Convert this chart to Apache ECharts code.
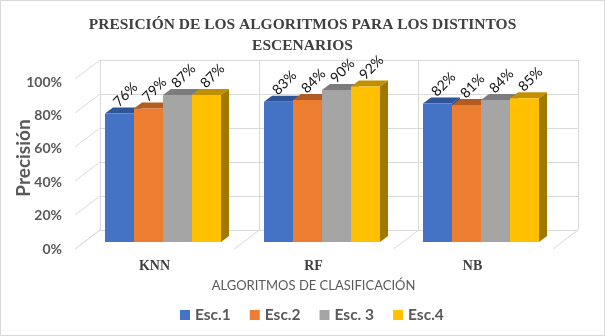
<!DOCTYPE html>
<html>
<head>
<meta charset="utf-8">
<script src="https://cdn.jsdelivr.net/npm/echarts@6/dist/echarts.min.js"></script>
<style>html,body{margin:0;padding:0;background:#fff}#c{width:605px;height:336px}</style>
</head>
<body>
<div id="c"></div>
<script>
// ---- data ----
const categories = ['KNN', 'RF', 'NB'];
const seriesNames = ['Esc.1', 'Esc.2', 'Esc. 3', 'Esc.4'];
const esc1 = [0.76, 0.83, 0.82];
const esc2 = [0.79, 0.84, 0.81];
const esc3 = [0.87, 0.90, 0.84];
const esc4 = [0.87, 0.92, 0.85];
const yTicks = [0, 0.2, 0.4, 0.6, 0.8, 1.0];
const yTickLabels = ['0%', '20%', '40%', '60%', '80%', '100%'];

const seriesValues = [esc1, esc2, esc3, esc4];
const frontColors = ['#4472C4', '#ED7D31', '#A5A5A5', '#FFC000'];
const topColors = ['#2F5597', '#B25C22', '#7C7C7C', '#C09000'];
const sideColors = ['#284A85', '#9C5120', '#6E6E6E', '#A07800'];

const BAR_W = 29;
const DEPTH_X = 8, DEPTH_Y = -6;
const WALL_DX = -25, WALL_DY = 19;
const sans = 'Lato, "Open Sans", sans-serif';
const serif = '"Liberation Serif", "Times New Roman", serif';

function barSeries(i) {
  return {
    type: 'custom',
    name: seriesNames[i],
    xAxisIndex: 1, yAxisIndex: 1,
    itemStyle: { color: frontColors[i] },
    data: seriesValues[i].map((v, j) => [j, v]),
    renderItem: function (params, api) {
      const c = api.value(0), v = api.value(1);
      const top = api.coord([c, v]);
      const base = api.coord([c, 0]);
      const cx = top[0] + (i - 1.5) * BAR_W;
      const x0 = cx - BAR_W / 2, x1 = cx + BAR_W / 2;
      const yT = top[1], yB = base[1];
      return {
        type: 'group',
        children: [
          { type: 'polygon', shape: { points: [[x1, yT], [x1 + DEPTH_X, yT + DEPTH_Y], [x1 + DEPTH_X, yB + DEPTH_Y], [x1, yB]] }, style: { fill: sideColors[i] } },
          { type: 'polygon', shape: { points: [[x0, yT], [x1, yT], [x1 + DEPTH_X, yT + DEPTH_Y], [x0 + DEPTH_X, yT + DEPTH_Y]] }, style: { fill: topColors[i] } },
          { type: 'rect', shape: { x: x0, y: yT, width: BAR_W, height: yB - yT }, style: { fill: frontColors[i] } },
          { type: 'text', x: cx + 6, y: yT - 19, rotation: Math.PI / 4,
            style: { text: Math.round(v * 100) + '%', font: '14px ' + sans, fill: '#111', align: 'center', verticalAlign: 'middle' } }
        ]
      };
    }
  };
}

const chart = echarts.init(document.getElementById('c'), null, { renderer: 'canvas' });
chart.setOption({
  animation: false,
  backgroundColor: '#fff',
  title: {
    text: 'PRESICIÓN DE LOS ALGORITMOS PARA LOS DISTINTOS\nESCENARIOS',
    left: 'center', top: 9,
    textStyle: { fontFamily: serif, fontWeight: 'bold', fontSize: 15.5, color: '#404040', lineHeight: 21 }
  },
  legend: {
    data: seriesNames,
    left: 175, top: 302,
    icon: 'rect', itemWidth: 10, itemHeight: 10, itemGap: 19,
    textStyle: { fontFamily: sans, fontWeight: 'bold', fontSize: 15.5, color: '#595959' }
  },
  graphic: [
    { type: 'rect', shape: { x: 0.5, y: 0.5, width: 604, height: 335 }, style: { fill: 'none', stroke: '#d9d9d9', lineWidth: 1 }, silent: true },
    { type: 'text', x: 24, y: 158, rotation: Math.PI / 2,
      style: { text: 'Precisión', font: 'bold 19px ' + sans, fill: '#595959', align: 'center', verticalAlign: 'middle' } }
  ],
  grid: [
    { left: 100, top: 60, width: 478, height: 170 },   // back wall
    { left: 83.5, top: 73, width: 477, height: 169 },  // bar front plane
    { left: 67, top: 82, width: 10, height: 167 },     // value labels (front floor)
    { left: 75, top: 200, width: 477, height: 48 }     // category labels
  ],
  xAxis: [
    { gridIndex: 0, type: 'category', data: categories, axisLine: { show: false }, axisTick: { show: false }, axisLabel: { show: false },
      splitLine: { show: true, lineStyle: { color: '#d9d9d9' } } },
    { gridIndex: 1, type: 'category', data: categories, show: false },
    { gridIndex: 2, type: 'value', show: false },
    { gridIndex: 3, type: 'category', data: categories, axisLine: { show: false }, axisTick: { show: false },
      axisLabel: { margin: 11, fontFamily: serif, fontWeight: 'bold', fontSize: 14, color: '#404040' },
      name: 'ALGORITMOS DE CLASIFICACIÓN', nameLocation: 'middle', nameGap: 31,
      nameTextStyle: { fontFamily: sans, fontSize: 13, color: '#595959' } }
  ],
  yAxis: [
    { gridIndex: 0, type: 'value', min: 0, max: 1, interval: 0.2, axisLine: { show: false }, axisTick: { show: false }, axisLabel: { show: false },
      splitLine: { show: true, lineStyle: { color: '#d9d9d9' } } },
    { gridIndex: 1, type: 'value', min: 0, max: 1, show: false },
    { gridIndex: 2, type: 'value', min: 0, max: 1, interval: 0.2, axisLine: { show: false }, axisTick: { show: false }, splitLine: { show: false },
      axisLabel: { margin: 5, fontFamily: sans, fontWeight: 'bold', fontSize: 14, color: '#595959',
        formatter: v => yTickLabels[yTicks.findIndex(t => Math.abs(t - v) < 1e-6)] } },
    { gridIndex: 3, type: 'value', show: false }
  ],
  series: [
    { // left side wall gridlines
      type: 'custom', xAxisIndex: 0, yAxisIndex: 0, silent: true,
      data: yTicks.map(t => [0, t]),
      renderItem: function (params, api) {
        const p = api.coord([0, api.value(1)]);
        const x = p[0] - api.size([1, 0])[0] / 2;
        return { type: 'line', shape: { x1: x, y1: p[1], x2: x + WALL_DX, y2: p[1] + WALL_DY }, style: { stroke: '#d9d9d9', lineWidth: 1 } };
      }
    },
    { // floor gridlines at category boundaries
      type: 'custom', xAxisIndex: 0, yAxisIndex: 0, silent: true,
      data: [0, 1, 2, 3].map(b => [0, 0, b]),
      renderItem: function (params, api) {
        const p = api.coord([0, 0]);
        const w = api.size([1, 0])[0];
        const x = p[0] - w / 2 + api.value(2) * w;
        return { type: 'line', shape: { x1: x, y1: p[1], x2: x + WALL_DX, y2: p[1] + WALL_DY }, style: { stroke: '#d9d9d9', lineWidth: 1 } };
      }
    },
    barSeries(0), barSeries(1), barSeries(2), barSeries(3)
  ]
});
</script>
</body>
</html>
